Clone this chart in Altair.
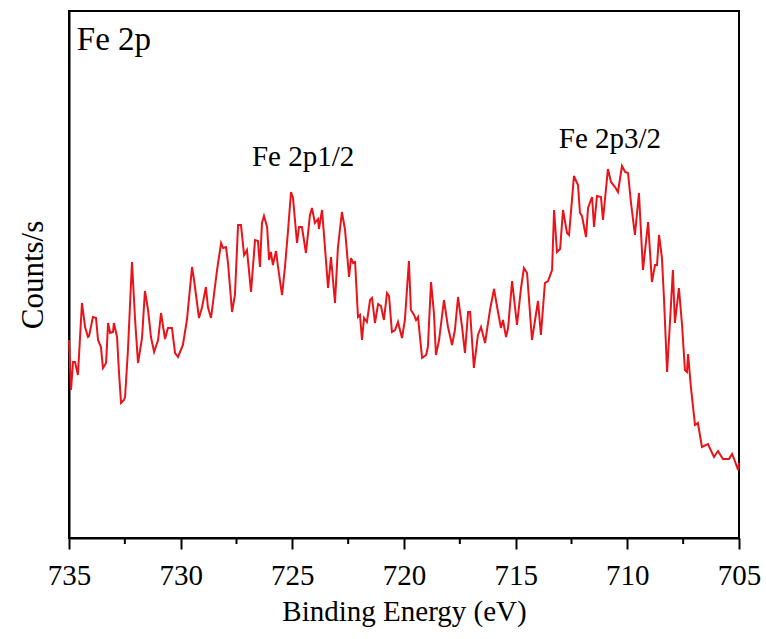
import altair as alt
import pandas as pd

energy = [735.00, 734.91, 734.82, 734.73, 734.60, 734.42, 734.28, 734.15, 734.10, 733.93,
          733.79, 733.70, 733.57, 733.48, 733.34, 733.25, 733.16, 733.03, 732.99, 732.85,
          732.76, 732.67, 732.54, 732.49, 732.36, 732.18, 732.04, 731.91, 731.73, 731.60,
          731.46, 731.33, 731.19, 731.01, 730.88, 730.70, 730.57, 730.39, 730.25, 730.12,
          729.90, 729.72, 729.49, 729.40, 729.18, 729.04, 728.87, 728.78, 728.64, 728.37,
          728.19, 728.10, 727.97, 727.88, 727.70, 727.57, 727.43, 727.30, 727.16, 727.03,
          726.85, 726.67, 726.54, 726.45, 726.36, 726.27, 726.13, 726.04, 725.96, 725.87,
          725.73, 725.64, 725.46, 725.33, 725.19, 725.06, 724.97, 724.79, 724.70, 724.57,
          724.39, 724.21, 724.12, 723.99, 723.85, 723.81, 723.67, 723.54, 723.40, 723.27,
          723.09, 722.96, 722.78, 722.64, 722.46, 722.37, 722.28, 722.19, 722.06, 721.97,
          721.88, 721.79, 721.66, 721.52, 721.43, 721.30, 721.16, 721.03, 720.90, 720.76,
          720.67, 720.54, 720.40, 720.27, 720.09, 719.96, 719.78, 719.69, 719.55, 719.46,
          719.37, 719.33, 719.19, 719.01, 718.93, 718.79, 718.66, 718.57, 718.43, 718.21,
          718.03, 717.85, 717.72, 717.58, 717.40, 717.27, 717.13, 717.04, 716.87, 716.69,
          716.55, 716.37, 716.15, 715.97, 715.79, 715.66, 715.57, 715.43, 715.34, 715.16,
          714.94, 714.76, 714.63, 714.49, 714.27, 714.00, 713.87, 713.69, 713.55, 713.37,
          713.28, 713.15, 713.01, 712.88, 712.70, 712.61, 712.39, 712.21, 712.12, 712.03,
          711.85, 711.76, 711.58, 711.49, 711.36, 711.18, 711.09, 710.87, 710.73, 710.55,
          710.42, 710.24, 710.10, 709.97, 709.84, 709.66, 709.48, 709.30, 709.07, 708.90,
          708.76, 708.67, 708.58, 708.45, 708.36, 708.22, 708.09, 707.96, 707.87, 707.69,
          707.55, 707.42, 707.33, 707.28, 707.15, 706.97, 706.84, 706.66, 706.39, 706.12,
          705.94, 705.72, 705.45, 705.31, 705.22, 705.04, 705.00]

counts = [1980, 1480, 1760, 1760, 1630, 2350, 2110, 2010, 2020, 2210,
          2200, 1980, 1910, 1700, 1750, 2150, 2050, 2060, 2150, 2010,
          1650, 1350, 1380, 1410, 1880, 2760, 2180, 1750, 2000, 2470,
          2280, 2010, 1860, 1980, 2250, 1990, 2100, 2100, 1850, 1810,
          1930, 2180, 2710, 2580, 2200, 2310, 2510, 2310, 2200, 2680,
          2950, 2900, 2910, 2750, 2260, 2430, 3130, 3130, 2830, 2880,
          2460, 2980, 2970, 2710, 3150, 3220, 3110, 2780, 2860, 2730,
          2870, 2710, 2430, 2710, 3080, 3460, 3400, 2950, 3110, 3110,
          2850, 3230, 3300, 3150, 3190, 3090, 3280, 2910, 2500, 2810,
          2350, 2900, 3260, 3080, 2610, 2800, 2750, 2760, 2210, 2230,
          1980, 2200, 2160, 2380, 2400, 2150, 2340, 2320, 2180, 2450,
          2420, 2060, 2080, 2160, 2000, 2180, 2770, 2280, 2230, 2180,
          2210, 2110, 1800, 1830, 1910, 2560, 2250, 1830, 1980, 2380,
          2110, 1930, 2080, 2410, 2110, 1850, 2260, 2260, 1700, 2030,
          2110, 1950, 2280, 2490, 2260, 2100, 2180, 2010, 2100, 2570,
          2130, 2500, 2700, 2650, 1980, 2370, 2030, 2550, 2570, 2680,
          3280, 2860, 2890, 3280, 3050, 3030, 3620, 3530, 3250, 3220,
          3010, 3300, 3410, 3110, 3420, 3410, 3180, 3690, 3560, 3510,
          3460, 3720, 3660, 3650, 3360, 3030, 3450, 2680, 3160, 2560,
          2730, 2730, 3030, 2800, 2400, 1660, 2160, 2680, 2150, 2500,
          2130, 1680, 1660, 1840, 1500, 1130, 1150, 910, 940, 810,
          870, 790, 790, 840, 790, 680, 750]

major_ticks = [735, 730, 725, 720, 715, 710, 705]
minor_ticks = [732.5, 727.5, 722.5, 717.5, 712.5, 707.5]

peak_labels = ["Fe 2p1/2", "Fe 2p3/2"]
peak_x = [724.52, 710.78]
peak_y = [3720, 3900]

panel_label = ["Fe 2p"]
panel_x = [734.65]
panel_y = [4880]

FONT = "Liberation Serif"

df = pd.DataFrame({"E": energy, "C": counts})
df_minor = pd.DataFrame({"E": minor_ticks, "lo": [-60] * len(minor_ticks),
                         "hi": [0] * len(minor_ticks)})
df_peaks = pd.DataFrame({"E": peak_x, "C": peak_y, "t": peak_labels})
df_panel = pd.DataFrame({"E": panel_x, "C": panel_y, "t": panel_label})

xscale = alt.Scale(domain=[705, 735], reverse=True, nice=False, zero=False)
yscale = alt.Scale(domain=[0, 5270], nice=False, zero=False)

line = alt.Chart(df).mark_line(color="#e8141a", strokeWidth=2).encode(
    x=alt.X("E:Q", scale=xscale,
            axis=alt.Axis(values=major_ticks, title="Binding Energy (eV)", format="d",
                          ticks=True, tickSize=11, tickWidth=2, tickColor="#000000",
                          domainColor="#000000", domainWidth=2,
                          labelFont=FONT, labelFontSize=29, labelColor="black",
                          labelPadding=12, titleFont=FONT, titleFontSize=29,
                          titleFontWeight="normal", titleColor="black",
                          titlePadding=7, grid=False, labelFlush=False)),
    y=alt.Y("C:Q", scale=yscale,
            axis=alt.Axis(labels=False, ticks=False, grid=False, title="Counts/s",
                          domainColor="#000000", domainWidth=2,
                          titleFont=FONT, titleFontSize=31, titleFontWeight="normal",
                          titleColor="black", titlePadding=20)),
)

minor_rules = alt.Chart(df_minor).mark_rule(color="#000000", strokeWidth=2, clip=False).encode(
    x=alt.X("E:Q", scale=xscale),
    y=alt.Y("lo:Q", scale=yscale),
    y2="hi:Q",
)

peaks = alt.Chart(df_peaks).mark_text(font=FONT, fontSize=29, color="black",
                                      align="center", baseline="alphabetic").encode(
    x=alt.X("E:Q", scale=xscale),
    y=alt.Y("C:Q", scale=yscale),
    text="t:N")

panel = alt.Chart(df_panel).mark_text(font=FONT, fontSize=33, color="black",
                                      align="left", baseline="alphabetic").encode(
    x=alt.X("E:Q", scale=xscale),
    y=alt.Y("C:Q", scale=yscale),
    text="t:N")

chart = alt.layer(line, minor_rules, peaks, panel).properties(
    width=670, height=527,
    padding={"left": 69, "top": 11, "right": 27, "bottom": 101},
    autosize=alt.AutoSizeParams(type="none"),
    background="white",
).configure_view(stroke="black", strokeWidth=2)

chart.save("out.html", embed_options={"renderer": "svg", "actions": False})
